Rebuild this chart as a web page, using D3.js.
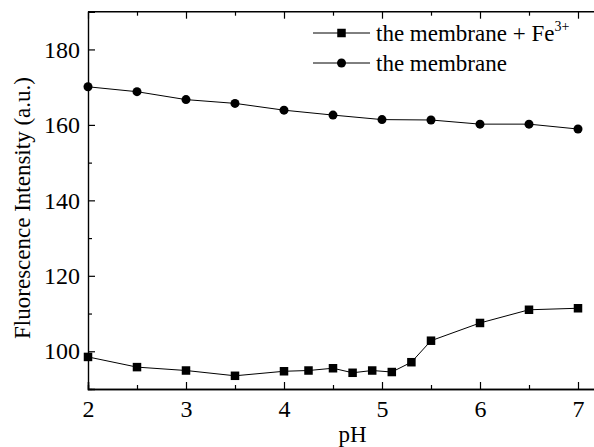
<!DOCTYPE html>
<html>
<head>
<meta charset="utf-8">
<script src="https://cdn.jsdelivr.net/npm/d3@7"></script>
<style>
  html, body { margin: 0; padding: 0; background: #fff; }
  svg { display: block; }
</style>
</head>
<body>
<svg id="chart" width="594" height="447"></svg>
<script>
// pH values and fluorescence intensities
const phFe = [2, 2.5, 3, 3.5, 4, 4.25, 4.5, 4.7, 4.9, 5.1, 5.3, 5.5, 6, 6.5, 7];
const intensityFe = [98.5, 95.8, 94.9, 93.5, 94.7, 94.9, 95.5, 94.3, 94.9, 94.5, 97.1, 102.8, 107.5, 111.0, 111.4];
const phMembrane = [2, 2.5, 3, 3.5, 4, 4.5, 5, 5.5, 6, 6.5, 7];
const intensityMembrane = [170.1, 168.8, 166.7, 165.7, 163.9, 162.6, 161.4, 161.3, 160.2, 160.2, 158.9];
const xTicks = [2, 3, 4, 5, 6, 7];
const yTicks = [100, 120, 140, 160, 180];
const seriesNames = ["the membrane + Fe", "the membrane"];

const FONT = '"Liberation Serif"';
const FS = 23;
const TICK_FS = 24;
const serif = sel => sel.style("font-family", FONT).style("fill", "#000");

const svg = d3.select("#chart");
const mLeft = 88, mTop = 11.7, mBottom = 389;
const x = d3.scaleLinear().domain([2, 7.2]).range([mLeft, mLeft + 5.2 * 98]);
const y = d3.scaleLinear().domain([90, 190]).range([mBottom, mTop]);

// frame top edge
svg.append("line").attr("x1", mLeft).attr("x2", 594).attr("y1", mTop).attr("y2", mTop)
  .attr("stroke", "#000").attr("stroke-width", 1.4);

const axisStyle = g => {
  g.attr("font-family", null);
  g.select(".domain").attr("stroke-width", 1.4);
  g.selectAll(".tick line").attr("stroke-width", 1.2);
  g.selectAll("text").call(serif).style("font-size", TICK_FS + "px");
};

// minor ticks
const xMinor = d3.range(2.5, 7.2, 1);
const yMinor = d3.range(90, 191, 20);

svg.append("g").attr("transform", `translate(0,${mBottom})`)
  .call(d3.axisBottom(x).tickValues(xMinor).tickSize(-4).tickFormat(""))
  .call(axisStyle);
svg.append("g").attr("transform", `translate(0,${mTop})`)
  .call(d3.axisTop(x).tickValues(xMinor).tickSize(-4).tickFormat(""))
  .call(axisStyle).call(g => g.select(".domain").remove());
svg.append("g").attr("transform", `translate(0,${mTop})`)
  .call(d3.axisTop(x).tickValues(xTicks).tickSize(-7).tickFormat(""))
  .call(axisStyle).call(g => g.select(".domain").remove());
svg.append("g").attr("transform", `translate(${mLeft},0)`)
  .call(d3.axisLeft(y).tickValues(yMinor).tickSize(-4).tickFormat(""))
  .call(axisStyle).call(g => g.select(".domain").remove());

svg.append("g").attr("transform", `translate(0,${mBottom})`)
  .call(d3.axisBottom(x).tickValues(xTicks).tickSize(-7).tickPadding(11).tickFormat(d3.format("d")))
  .call(axisStyle);
svg.append("g").attr("transform", `translate(${mLeft},0)`)
  .call(d3.axisLeft(y).tickValues(yTicks).tickSize(-7).tickPadding(8).tickFormat(d3.format("d")))
  .call(axisStyle);

// axis titles
svg.append("text").attr("x", x(4.7)).attr("y", 442).attr("text-anchor", "middle")
  .call(serif).style("font-size", FS + "px").text("pH");
svg.append("text").attr("transform", `translate(30,208) rotate(-90)`)
  .attr("text-anchor", "middle").call(serif).style("font-size", FS + "px")
  .text("Fluorescence Intensity (a.u.)");

// series
const line = d3.line();
const ptsFe = phFe.map((p, i) => [x(p), y(intensityFe[i])]);
const ptsM = phMembrane.map((p, i) => [x(p), y(intensityMembrane[i])]);

svg.append("path").attr("d", line(ptsFe)).attr("fill", "none").attr("stroke", "#000").attr("stroke-width", 1);
svg.append("path").attr("d", line(ptsM)).attr("fill", "none").attr("stroke", "#000").attr("stroke-width", 1);

const sq = 8.5;
svg.append("g").selectAll("rect").data(ptsFe).join("rect")
  .attr("x", d => d[0] - sq / 2).attr("y", d => d[1] - sq / 2)
  .attr("width", sq).attr("height", sq).attr("fill", "#000");
svg.append("g").selectAll("circle").data(ptsM).join("circle")
  .attr("cx", d => d[0]).attr("cy", d => d[1]).attr("r", 4.5).attr("fill", "#000");

// legend
const lg = svg.append("g");
const rowY = [33, 63];
rowY.forEach((yy, i) => {
  lg.append("line").attr("x1", 313).attr("x2", 370).attr("y1", yy).attr("y2", yy)
    .attr("stroke", "#000").attr("stroke-width", 1);
  if (i === 0) {
    lg.append("rect").attr("x", 341.5 - sq / 2).attr("y", yy - sq / 2).attr("width", sq).attr("height", sq).attr("fill", "#000");
  } else {
    lg.append("circle").attr("cx", 341.5).attr("cy", yy).attr("r", 4.5).attr("fill", "#000");
  }
  const t = lg.append("text").attr("x", 376).attr("y", yy + 8).call(serif)
    .style("font-size", FS + "px").text(seriesNames[i]);
  if (i === 0) {
    t.append("tspan").attr("dy", -10).style("font-size", "14px").text("3+");
  }
});
</script>
</body>
</html>
